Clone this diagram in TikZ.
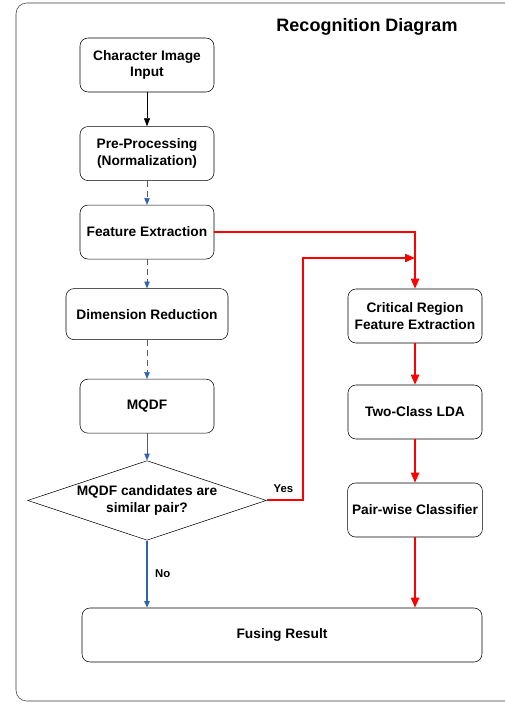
\documentclass[tikz,border=0pt]{standalone}
\usepackage{fontspec}
\setmainfont{Liberation Sans}
\usepackage{tikz}
\usepackage{xcolor}
\usetikzlibrary{arrows.meta,positioning,shapes.geometric}
\definecolor{flowblue}{RGB}{46,100,175}
\definecolor{framegray}{RGB}{60,60,60}

\begin{document}
\begin{tikzpicture}[
x=0.75pt, y=-0.75pt,
font=\bfseries\fontsize{10.3}{12.3}\selectfont,
block/.style={draw, rounded corners=6pt, minimum width=100.5pt, minimum height=40.5pt, align=center, fill=white},
decision/.style={draw, diamond, shape aspect=3, inner sep=1pt, minimum width=176.25pt, minimum height=58.5pt, align=center, fill=white},
lbl/.style={font=\bfseries\fontsize{8.5}{10}\selectfont},
blackarrow/.style={-{Triangle[length=6pt, width=4.5pt]}, thin},
bluearrow/.style={-{Triangle[length=5pt, width=4pt]}, draw=flowblue, thin},
bluedash/.style={bluearrow, dash pattern=on 4.5pt off 3pt},
redarrow/.style={-{Triangle[length=7.5pt, width=6pt]}, draw=red, line width=1.5pt}
]
\useasboundingbox (0,0) rectangle (504,703);
\draw[framegray, rounded corners=8pt, fill=white] (16,3) rectangle (530,701);
\node[font=\bfseries\fontsize{13.5}{15}\selectfont] (title) at (367,27) {Recognition Diagram};
\node[block] (m1) at (147,65) {Character Image\\Input};
\node[block, below=25.5pt of m1] (m2) {Pre-Processing\\(Normalization)};
\node[block, below=18pt of m2] (m3) {Feature Extraction};
\node[block, below=21.75pt of m3, minimum width=121.5pt, minimum height=38.25pt] (m4) {Dimension Reduction};
\node[block, below=29.25pt of m4] (m5) {MQDF};
\node[decision, below=20.25pt of m5] (q) {MQDF candidates are\\similar pair?};
\node[block] (r1) at (415,316) {Critical Region\\Feature Extraction};
\node[block] (r2) at (415,412) {Two-Class LDA};
\node[block] (r3) at (415,510) {Pair-wise Classifier};
\node[block, minimum width=300pt] (fuse) at (282,635) {Fusing Result};
\coordinate (join) at (415,258);
\draw[blackarrow] (m1) -- (m2);
\draw[bluedash] (m2) -- (m3);
\draw[bluedash] (m3) -- (m4);
\draw[bluedash] (m4) -- (m5);
\draw[bluearrow] (m5) -- (q);
\draw[bluearrow, line width=1.5pt] (q.south) -- node[right, lbl, pos=0.5, xshift=2pt] (no) {No} (q.south |- fuse.north);
\draw[redarrow] (m3.east) -| (r1.north);
\draw[redarrow] (q.east) -- ++(36,0) node[above left, lbl, xshift=-3pt, yshift=2pt] (yes) {Yes} |- (join);
\draw[redarrow] (r1) -- (r2);
\draw[redarrow] (r2) -- (r3);
\draw[redarrow] (r3.south) -- (r3.south |- fuse.north);
\end{tikzpicture}
\end{document}
